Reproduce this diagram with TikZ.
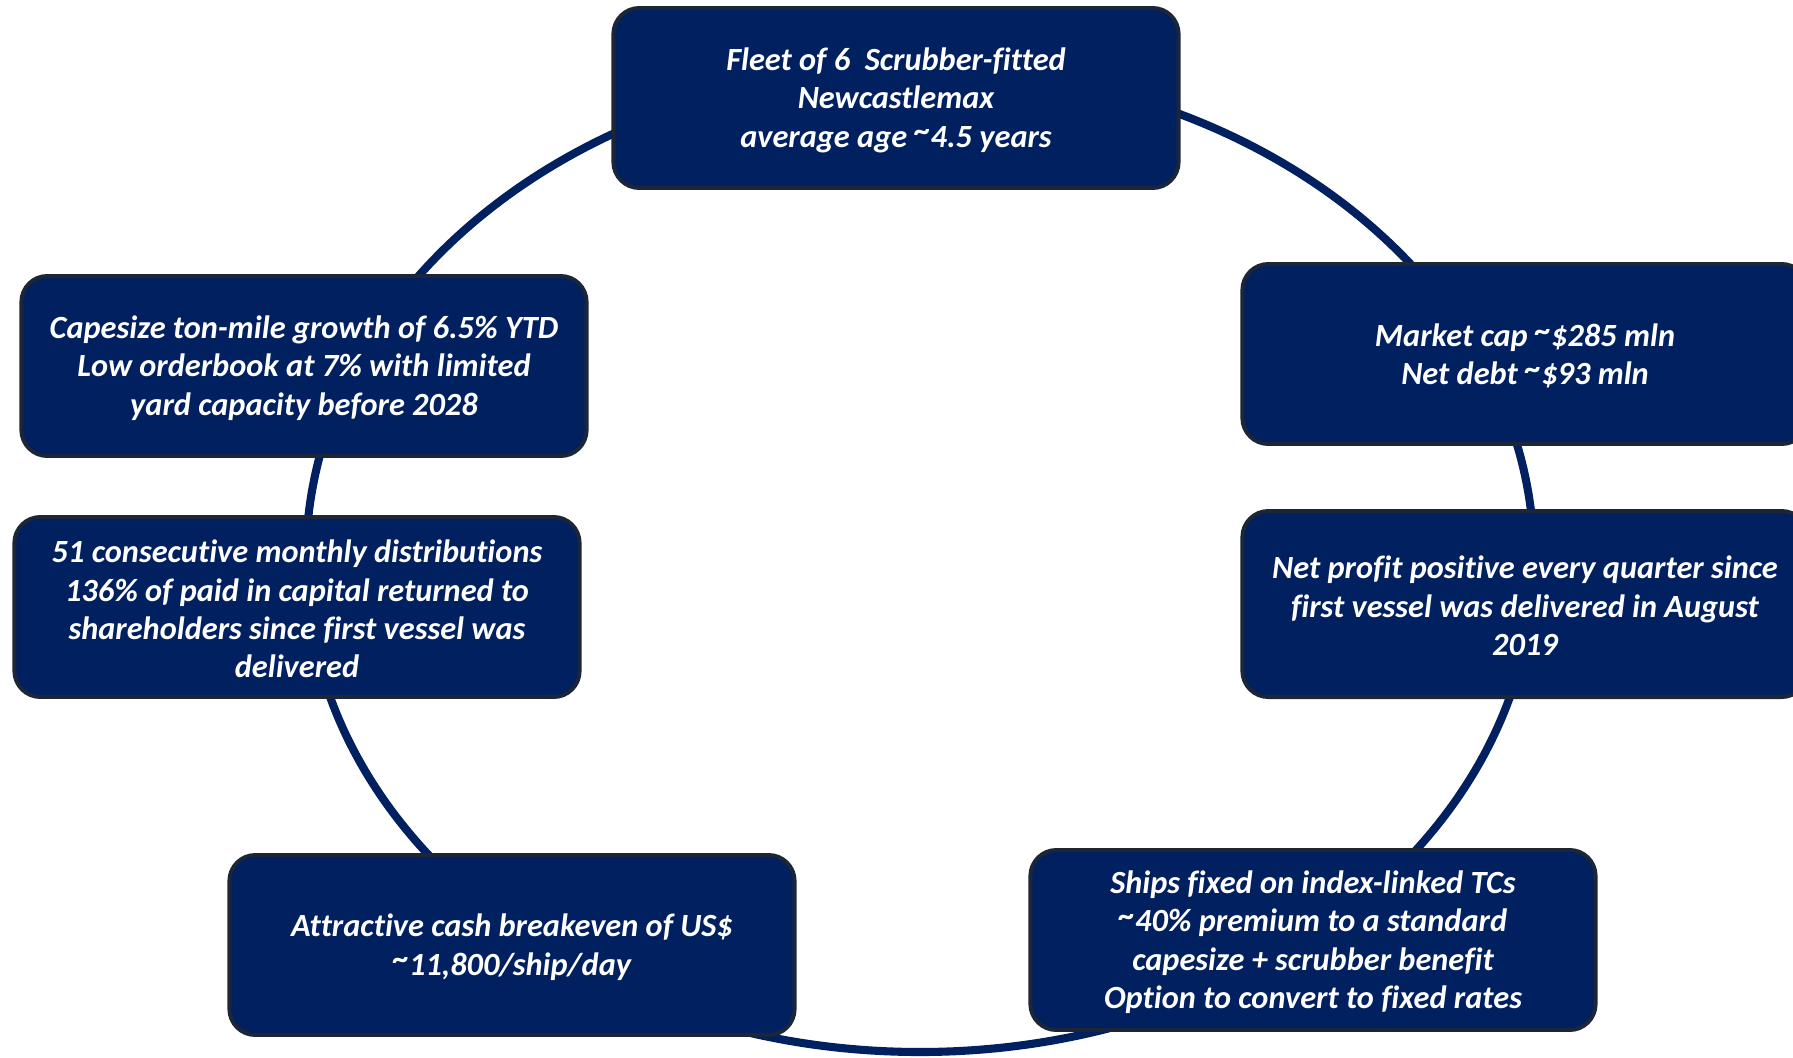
\documentclass[tikz,border=0pt]{standalone}
\usepackage{fontspec}
\setmainfont{Carlito}[Ligatures={NoCommon}]
\usetikzlibrary{positioning}
\definecolor{navy}{HTML}{002060}
\definecolor{rim}{HTML}{1C2636}
\newcommand{\tld}{\raisebox{0.35ex}{\textasciitilde}}

\begin{document}
\begin{tikzpicture}[x=0.01cm,y=-0.01cm,
    font=\fontsize{9.2}{10.9}\selectfont\bfseries\itshape,
    fact/.style={rounded corners=0.26cm,draw=rim,line width=1.1pt,fill=navy,text=white,
      minimum width=5.65cm,minimum height=1.8cm,align=center,inner sep=2pt}]
    \useasboundingbox (0,0) rectangle (1793,1057);
    \clip (0,0) rectangle (1793,1057);
    % ring behind the boxes
    \coordinate (hub) at (920,560);
    \draw[navy,line width=2.3pt] (hub) ellipse [x radius=614,y radius=492];
    \node[fact] (fleet) at (896,98) {\strut Fleet of 6\ \ Scrubber-fitted\\Newcastlemax\\ average age \tld4.5 years};
    \node[fact] (mcap) at (1525,354) {\strut Market cap \tld\$285 mln\\Net debt \tld\$93 mln};
    \node[fact,minimum height=1.86cm,below=0.63cm of mcap] (profit) {\strut Net profit positive every quarter since\\first vessel was delivered in August\\2019};
    \node[fact] (ships) at (1313,940) {\strut Ships fixed on index-linked TCs\\\tld40\% premium to a standard\\capesize + scrubber benefit\\Option to convert to fixed rates};
    \node[fact] (cash) at (512,945) {\strut Attractive cash breakeven of US\$\\\tld11,800/ship/day};
    \node[fact] (dist) at (297,607) {\strut 51 consecutive monthly distributions\\136\% of paid in capital returned to\\shareholders since first vessel was\\delivered};
    \node[fact] (tonmile) at (304,366) {\strut Capesize ton-mile growth of 6.5\% YTD\\Low orderbook at 7\% with limited\\yard capacity before 2028};
\end{tikzpicture}
\end{document}
